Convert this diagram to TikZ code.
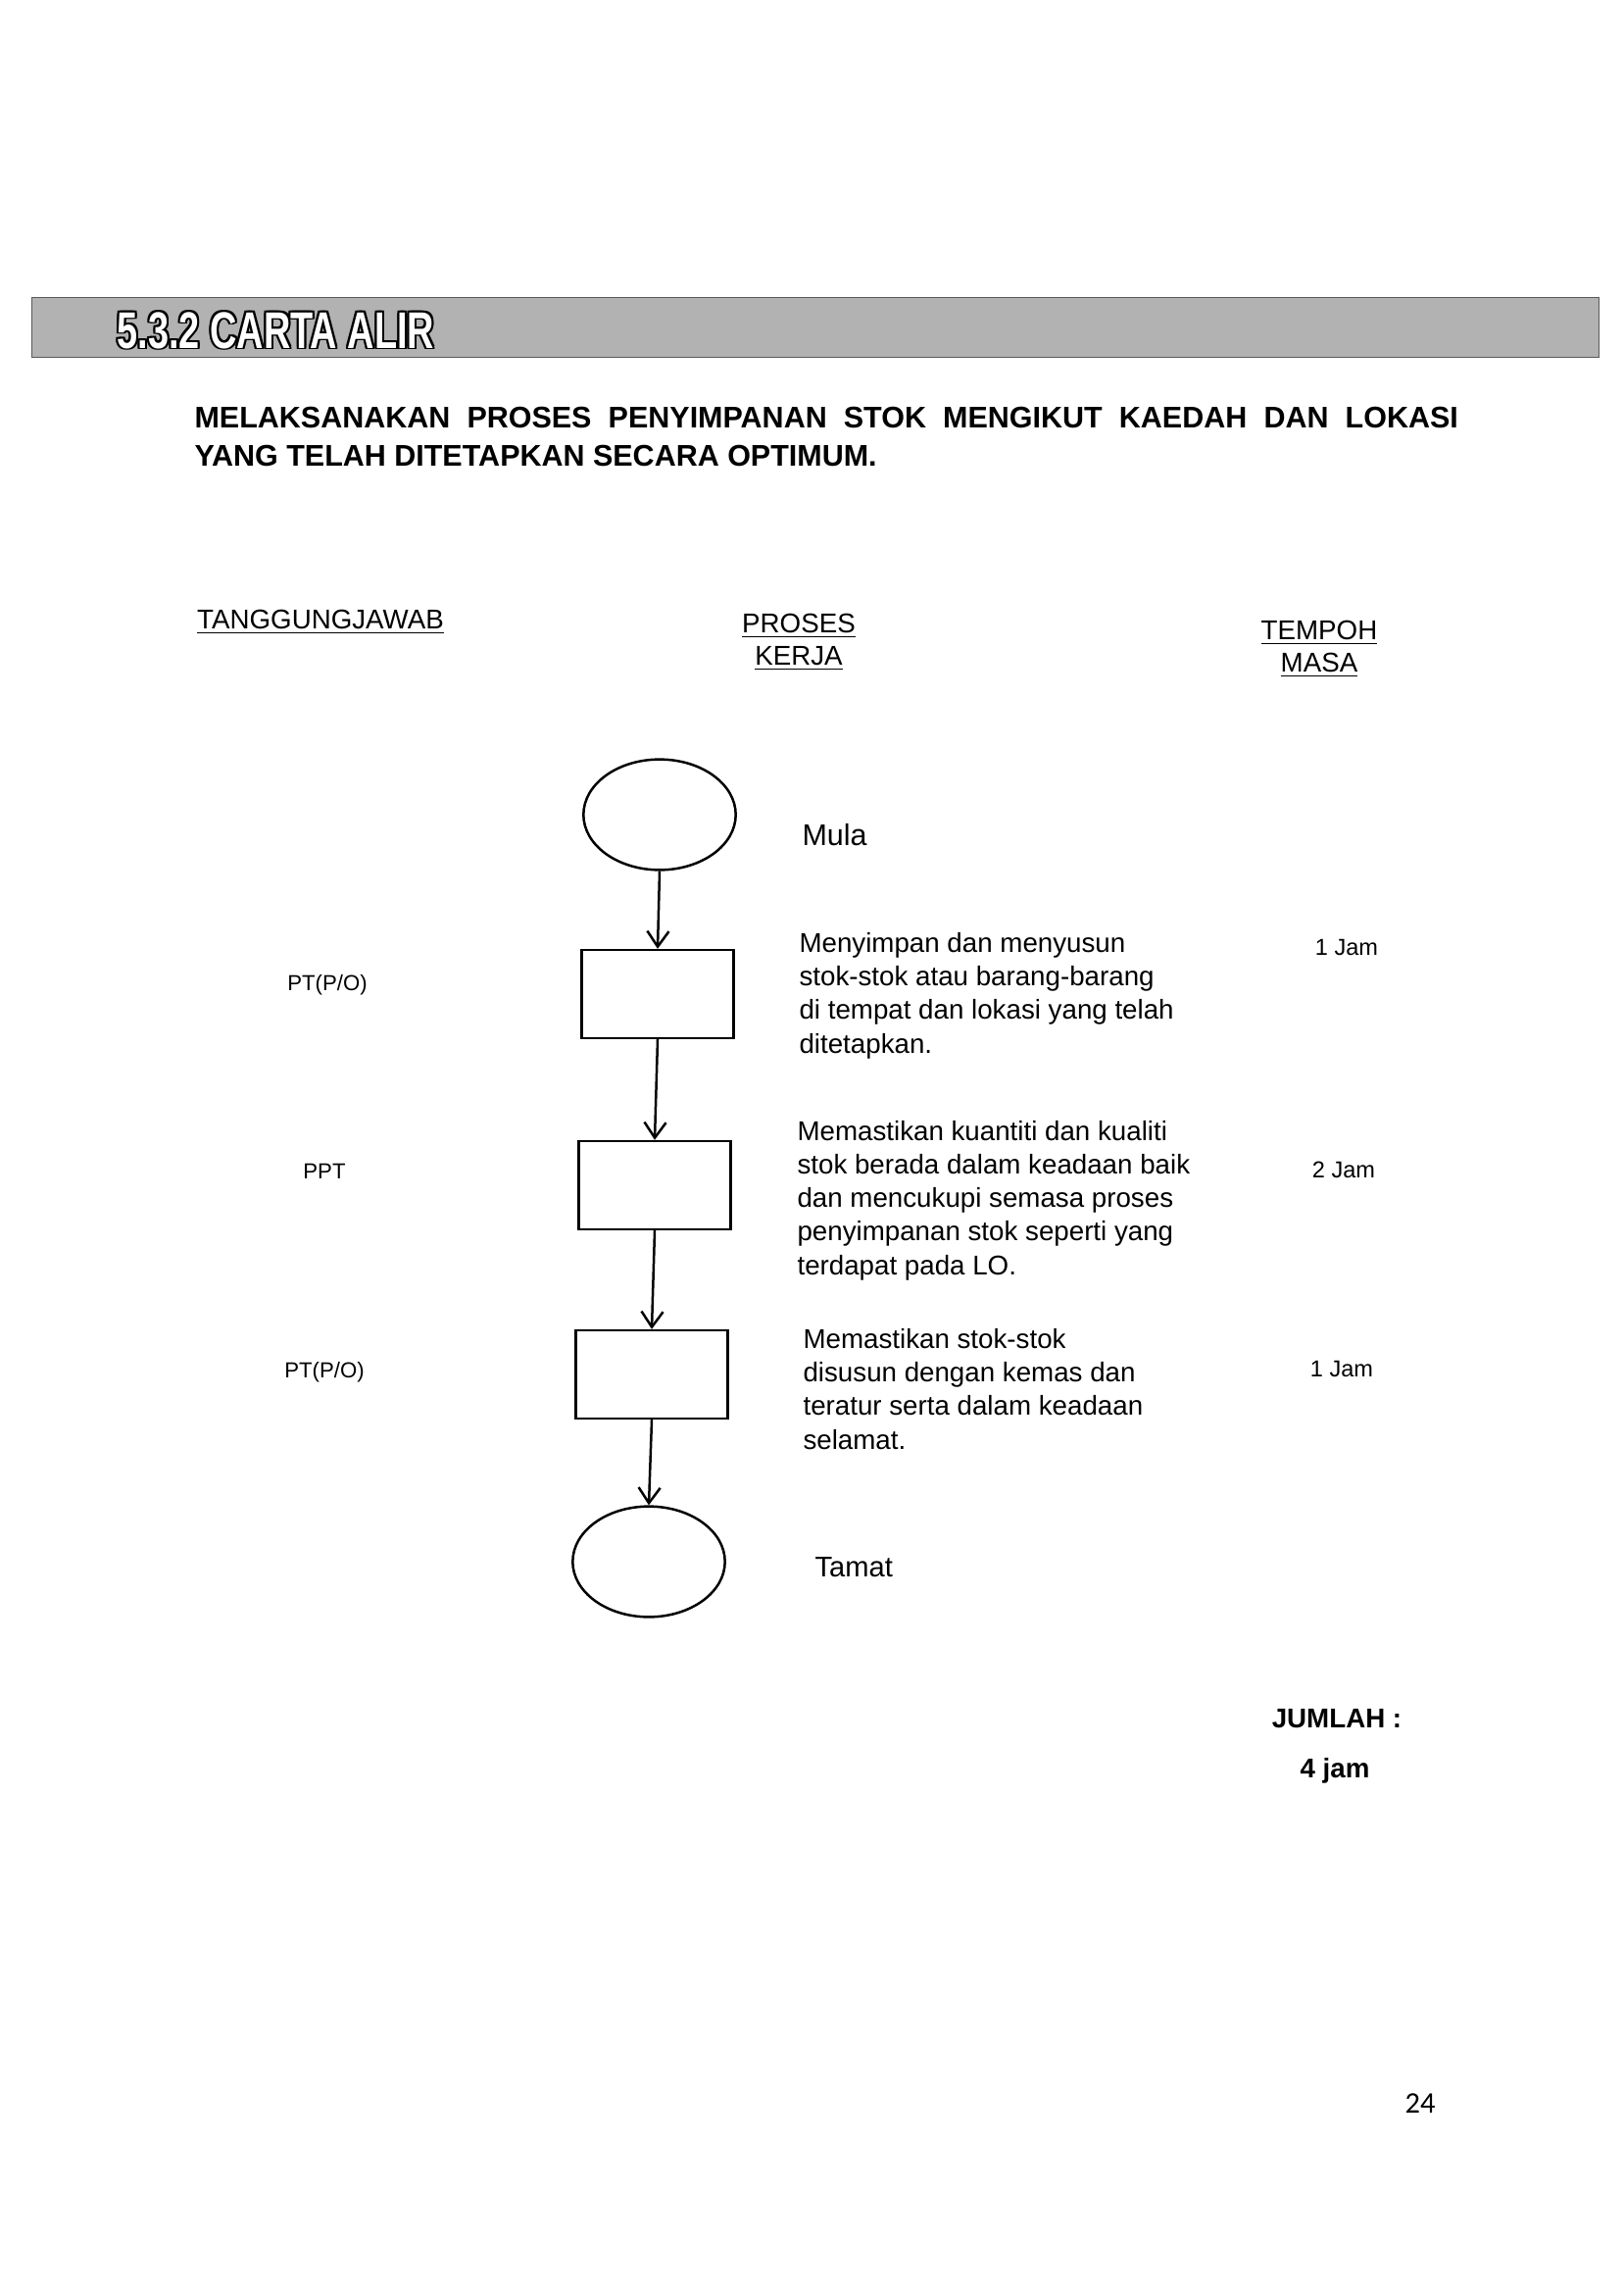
\documentclass[tikz,border=0pt]{standalone}
\usepackage{fontspec}
\setmainfont{Liberation Sans}
\newfontfamily\nomborfont{Carlito}
\usetikzlibrary{arrows.meta, shapes.geometric}

\begin{document}
\begin{tikzpicture}[x=0.01268cm, y=-0.01268cm,
    every node/.style={inner sep=0pt},
    terminal/.style={draw, ellipse, line width=0.9pt, minimum width=1.97cm, minimum height=1.43cm},
    langkah/.style={draw, rectangle, line width=0.9pt, minimum width=1.97cm, minimum height=1.14cm},
    aliran/.style={line width=0.9pt, -{Straight Barb[length=2mm, width=2.8mm, line width=0.9pt]}},
    ket/.style={anchor=base west, align=left, font=\fontsize{10}{12.3}\selectfont},
    peg/.style={anchor=base, font=\fontsize{8}{10}\selectfont},
    masa/.style={anchor=base, font=\fontsize{8.5}{10}\selectfont},
    tajuk/.style={anchor=base, align=center, font=\fontsize{10}{11.9}\selectfont},
    bartext/.style={anchor=base west, font=\fontsize{19}{20}\selectfont\bfseries}]
  \useasboundingbox (0,0) rectangle (1656,2339);
  \node[draw=black!65, fill=black!30, anchor=north west, minimum width=20.27cm, minimum height=0.77cm] (bar) at (32,303) {};
  \foreach \dx/\dy [count=\i] in {-1/0,1/0,0/-1,0/1,-1/-1,1/1,-1/1,1/-1}
    \node[bartext, text=black, xshift=\dx*0.7pt, yshift=\dy*0.7pt] (tepi\i) at (119,355) {\scalebox{0.72}[1]{5.3.2 CARTA ALIR}};
  \node[bartext, text=white] (bartajuk) at (119,355) {\scalebox{0.72}[1]{5.3.2 CARTA ALIR}};
  \node[anchor=base west, text width=16.35cm, align=justify, font=\fontsize{11}{14.3}\selectfont\bfseries] (tajuk) at (198,436)
    {MELAKSANAKAN PROSES PENYIMPANAN STOK MENGIKUT KAEDAH DAN LOKASI YANG TELAH DITETAPKAN SECARA OPTIMUM.};
  \node[tajuk] (h1) at (327,641) {\underline{TANGGUNGJAWAB}};
  \node[tajuk] (h2) at (815,678) {\underline{PROSES}\\\underline{KERJA}};
  \node[tajuk] (h3) at (1346,685) {\underline{TEMPOH}\\\underline{MASA}};
  \node[terminal] (mula) at (673,831) {};
  \node[langkah] (b1) at (671,1014) {};
  \node[langkah] (b2) at (668,1209) {};
  \node[langkah] (b3) at (665,1402) {};
  \node[terminal] (tamat) at (662,1593) {};
  \draw[aliran] (mula.south) -- (b1.north);
  \draw[aliran] (b1.south) -- (b2.north);
  \draw[aliran] (b2.south) -- (b3.north);
  \draw[aliran] (b3.south) -- (tamat.north);
  \node[ket, font=\fontsize{11}{13}\selectfont] (tmula) at (818,862) {Mula};
  \node[ket] (t1) at (815,1074) {Menyimpan dan menyusun\\stok-stok atau barang-barang\\di tempat dan lokasi yang telah\\ditetapkan.};
  \node[ket] (t2) at (813,1300) {Memastikan kuantiti dan kualiti\\stok berada dalam keadaan baik\\dan mencukupi semasa proses\\penyimpanan stok seperti yang\\terdapat pada LO.};
  \node[ket] (t3) at (819,1478) {Memastikan stok-stok\\disusun dengan kemas dan\\teratur serta dalam keadaan\\selamat.};
  \node[ket, font=\fontsize{10.5}{13}\selectfont] (ttamat) at (831,1608) {Tamat};
  \node[peg] (p1) at (334,1010) {PT(P/O)};
  \node[peg] (p2) at (331,1202) {PPT};
  \node[peg] (p3) at (331,1405) {PT(P/O)};
  \node[masa] (m1) at (1374,974) {1 Jam};
  \node[masa] (m2) at (1371,1201) {2 Jam};
  \node[masa] (m3) at (1369,1404) {1 Jam};
  \node[anchor=base, font=\fontsize{10}{12}\selectfont\bfseries] (jumlah) at (1364,1762) {JUMLAH :};
  \node[anchor=base, font=\fontsize{10}{12}\selectfont\bfseries] (jam) at (1362,1813) {4 jam};
  \node[anchor=base, font=\fontsize{11}{13}\selectfont\nomborfont] (muka) at (1449,2155) {24};
\end{tikzpicture}
\end{document}
